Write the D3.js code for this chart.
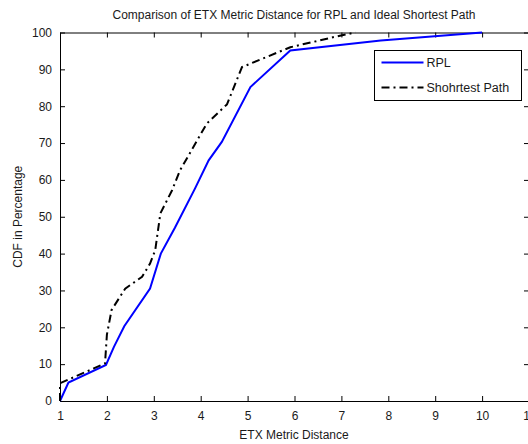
<!DOCTYPE html>
<html>
<head>
<meta charset="utf-8">
<script src="https://cdn.jsdelivr.net/npm/d3@7"></script>
<style>
body { margin: 0; background: #fff; overflow: hidden; }
text { font-family: "Liberation Sans", Arial, sans-serif; fill: #1a1a1a; }
</style>
</head>
<body>
<div id="chart"></div>
<script>
// CDF of ETX metric distance
var rplX = [1, 1.18, 1.98, 2.15, 2.37, 2.92, 3.15, 3.45, 3.88, 4.17, 4.45, 5.06, 5.91, 7.84, 10]
var rplY = [0, 5, 9.8, 14.7, 20.3, 30.5, 40, 47, 57.7, 65.3, 70.3, 85.2, 95.1, 97.8, 100]
var spX = [1, 1, 1.96, 2.0, 2.1, 2.39, 2.75, 2.92, 3.03, 3.14, 3.39, 3.56, 4.13, 4.56, 4.88, 5.91, 6.99, 7.3]
var spY = [0, 4.8, 10.2, 18, 24.7, 30.5, 33.7, 37.3, 40.9, 50.9, 57.2, 62.6, 75.3, 80.5, 90.6, 96, 99.2, 100]
var xTicks = [1, 2, 3, 4, 5, 6, 7, 8, 9, 10, 11]
var yTicks = [0, 10, 20, 30, 40, 50, 60, 70, 80, 90, 100]
var seriesNames = ["RPL", "Shohrtest Path"]

var W = 528, H = 444
var margin = {top: 32.5, right: -1, bottom: 43, left: 60}
var width = W - margin.left - margin.right,
    height = H - margin.top - margin.bottom

var svg = d3.select("#chart").append("svg")
  .attr("width", W).attr("height", H)

var g = svg.append("g")
  .attr("transform", "translate(" + margin.left + "," + margin.top + ")")

var x = d3.scaleLinear().domain([1, 11]).range([0, width])
var y = d3.scaleLinear().domain([0, 100]).range([height, 0])

// axes with inward ticks on all four sides
function styleAxis(sel) {
  sel.select(".domain").attr("stroke", "#000")
  sel.selectAll(".tick line").attr("stroke", "#000")
  sel.selectAll("text").style("font-size", "12px").attr("fill", "#1a1a1a")
}
g.append("g").attr("transform", "translate(0," + height + ")")
  .call(d3.axisBottom(x).tickValues(xTicks).tickSizeInner(-5).tickSizeOuter(0).tickPadding(10))
  .call(styleAxis)
g.append("g")
  .call(d3.axisLeft(y).tickValues(yTicks).tickSizeInner(-5).tickSizeOuter(0).tickPadding(8))
  .call(styleAxis)
g.append("g")
  .call(d3.axisTop(x).tickValues(xTicks).tickSizeInner(-5).tickSizeOuter(0).tickFormat(""))
  .call(styleAxis)
g.append("g").attr("transform", "translate(" + width + ",0)")
  .call(d3.axisRight(y).tickValues(yTicks).tickSizeInner(-5).tickSizeOuter(0).tickFormat(""))
  .call(styleAxis)

var line = d3.line()
  .x(function(d) { return x(d[0]) })
  .y(function(d) { return y(d[1]) })

g.append("path")
  .datum(d3.zip(rplX, rplY))
  .attr("d", line)
  .attr("fill", "none")
  .attr("stroke", "#0000ff")
  .attr("stroke-width", 2)

g.append("path")
  .datum(d3.zip(spX, spY))
  .attr("d", line)
  .attr("fill", "none")
  .attr("stroke", "#000")
  .attr("stroke-width", 2)
  .attr("stroke-dasharray", "8,4,2,4")

// legend
var leg = svg.append("g").attr("transform", "translate(374.5,50.5)")
leg.append("rect").attr("width", 147).attr("height", 50)
  .attr("fill", "#fff").attr("stroke", "#000")
leg.append("line").attr("x1", 7).attr("x2", 49).attr("y1", 12).attr("y2", 12)
  .attr("stroke", "#0000ff").attr("stroke-width", 2)
leg.append("line").attr("x1", 7).attr("x2", 49).attr("y1", 37).attr("y2", 37)
  .attr("stroke", "#000").attr("stroke-width", 2).attr("stroke-dasharray", "8,4,2,4")
leg.selectAll(".lt").data(seriesNames).enter().append("text")
  .attr("x", 52).attr("y", function(d, i) { return 12 + i * 25 })
  .attr("dy", "0.35em").style("font-size", "12.5px")
  .text(function(d) { return d })

// titles
svg.append("text").attr("x", margin.left + 234).attr("y", 19)
  .attr("text-anchor", "middle").style("font-size", "12px")
  .text("Comparison of ETX Metric Distance for RPL and Ideal Shortest Path")
svg.append("text").attr("x", margin.left + 234).attr("y", 439)
  .attr("text-anchor", "middle").style("font-size", "12px")
  .text("ETX Metric Distance")
svg.append("text")
  .attr("transform", "translate(22," + (margin.top + height / 2) + ")rotate(-90)")
  .attr("text-anchor", "middle").style("font-size", "12px")
  .text("CDF in Percentage")
</script>
</body>
</html>
